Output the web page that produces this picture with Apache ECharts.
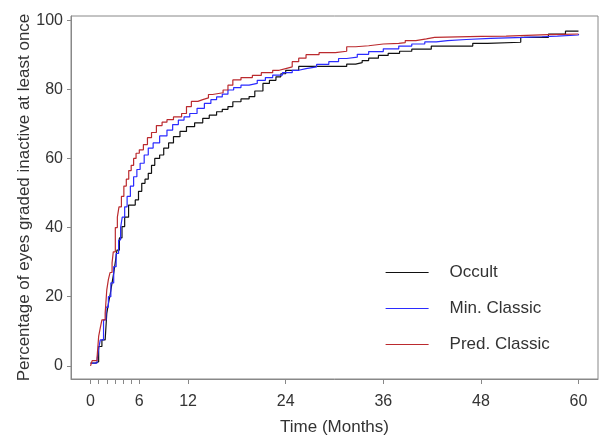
<!DOCTYPE html>
<html>
<head>
<meta charset="utf-8">
<script src="https://cdn.jsdelivr.net/npm/echarts@6/dist/echarts.min.js"></script>
<style>
  html, body { margin: 0; padding: 0; background: #fff; }
  #main { width: 605px; height: 436px; }
</style>
</head>
<body>
<div id="main"></div>
<script>
// cumulative % inactive (step curves)
var occultT = [0, 0.6, 1.0, 1.4, 1.8, 2.0, 2.2, 2.44, 2.65, 2.85, 3.05, 3.25, 3.55, 3.87, 4.2, 4.68, 5.5, 5.9, 6.3, 6.7, 7.1, 7.5, 7.9, 8.5, 9.0, 9.6, 10.2, 11.0, 11.8, 12.8, 13.8, 14.6, 15.5, 16.2, 16.9, 17.5, 18.5, 19.5, 20.2, 21.2, 22.0, 22.8, 23.4, 24.0, 25.6, 31.5, 32.6, 33.4, 34.2, 35.4, 36.6, 38.0, 39.5, 41.9, 47.0, 48.8, 52.9, 56.3, 58.4, 60];
var occultV = [0.8, 1.2, 5.6, 7.5, 8, 15.2, 18, 21, 24, 26.8, 30, 33.5, 37, 40.3, 43, 46.5, 48, 50.5, 52.8, 54, 55.7, 58, 60, 61, 63, 64.5, 66.3, 67.8, 69.2, 70.3, 71.6, 72.5, 73.5, 74.2, 75, 76.4, 77.2, 77.9, 79.5, 81.7, 82.6, 83.6, 84.5, 85.5, 86.6, 87.3, 87.7, 88.3, 89, 89.8, 90.4, 91, 91.6, 92.5, 93.3, 93.6, 95, 96, 96.8, 96.8];

var minT = [0, 0.8, 1.0, 1.2, 1.6, 1.9, 2.2, 2.5, 2.85, 3.15, 3.45, 3.7, 3.9, 4.2, 4.5, 4.9, 5.3, 5.7, 6.1, 6.6, 7.1, 7.7, 8.5, 9.4, 10.1, 10.8, 11.5, 12.2, 13.1, 14.0, 14.8, 15.5, 16.2, 16.9, 17.6, 18.5, 19.5, 20.5, 21.5, 22.4, 23.6, 24.8, 25.6, 26.5, 27.8, 29.3, 30.5, 31.5, 32.8, 34.2, 36.0, 37.9, 39.5, 41.1, 42.5, 43.9, 46.2, 49.2, 53.3, 55.5, 57.4, 60];
var minV = [0.8, 1.7, 5, 7.5, 13.3, 17, 20, 24, 28.7, 32.5, 36.4, 40, 43, 46, 49, 52, 54.7, 56.8, 58.6, 61, 63, 64.5, 66.5, 68.2, 69.8, 71.1, 72, 73, 74.5, 75.9, 77, 77.8, 78.6, 79.8, 80.5, 81.2, 81.7, 82.6, 83.4, 84.1, 84.8, 85.5, 86, 86.5, 87.2, 88, 88.9, 89.3, 90.1, 90.9, 91.7, 92.5, 93.1, 93.7, 94.1, 94.4, 94.7, 95, 95.2, 95.4, 95.7, 96];

var predT = [0, 0.2, 0.8, 1.0, 1.2, 1.4, 1.8, 2.0, 2.2, 2.4, 2.65, 2.8, 3.05, 3.3, 3.5, 3.8, 4.1, 4.4, 4.7, 5.0, 5.3, 5.6, 6.0, 6.5, 7.0, 7.5, 8.1, 8.8, 9.4, 10.2, 11.2, 11.8, 12.4, 13.2, 13.8, 14.5, 15.0, 16.3, 16.9, 17.5, 18.5, 19.9, 21.0, 22.4, 23.2, 24.0, 24.8, 25.6, 26.5, 28.1, 30.1, 31.5, 32.6, 34.2, 36.0, 37.9, 38.7, 40.0, 41.3, 42.3, 48.0, 51.1, 56.2, 58.0, 60];
var predV = [0, 1.5, 2.3, 8.5, 11, 13.3, 15.3, 22, 25, 27, 29.8, 33, 40, 43, 46, 49, 52, 54, 56.5, 58, 60, 61.5, 62.5, 64, 66, 67.5, 69.5, 70.5, 71.2, 72, 73, 75, 76.5, 77, 77.5, 78.5, 79, 79.8, 81.2, 82.7, 83.4, 84, 84.8, 85.5, 86, 86.5, 88, 89, 90, 90.6, 91, 92.3, 92.6, 93.1, 93.3, 93.5, 94.1, 94.6, 95, 95.3, 95.4, 95.8, 95.9, 96, 96.1];

var xTicks = [0, 1, 2, 3, 4, 5, 6, 12, 24, 36, 48, 60];
var xLabels = [0, 6, 12, 24, 36, 48, 60];
var yTicks = [0, 20, 40, 60, 80, 100];

function pairs(t, v) {
  var out = [];
  for (var i = 0; i < t.length; i++) {
    out.push([t[i], v[i]]);
  }
  return out;
}

var font = '"Liberation Sans", Helvetica, Arial, sans-serif';
var axisGray = '#888';
var textCol = '#333';

var chart = echarts.init(document.getElementById('main'));
var option = {
  animation: false,
  grid: {
    left: 71, top: 16, right: 7, bottom: 57,
    outerBoundsMode: 'none',
    show: true, borderColor: axisGray, borderWidth: 1
  },
  legend: {
    orient: 'vertical',
    left: 380, top: 259,
    itemWidth: 43, itemHeight: 14, itemGap: 19,
    itemStyle: { opacity: 0 },
    lineStyle: { width: 1.2 },
    textStyle: { fontFamily: font, fontSize: 17, color: textCol, padding: [0, 0, 0, 16] },
    data: ['Occult', 'Min. Classic', 'Pred. Classic']
  },
  xAxis: {
    type: 'value',
    min: -2.4, max: 62.4,
    name: 'Time (Months)',
    nameLocation: 'middle',
    nameGap: 40,
    nameMoveOverlap: false,
    nameTextStyle: { fontFamily: font, fontSize: 17, color: textCol },
    axisLine: { show: true, onZero: false, lineStyle: { color: axisGray } },
    axisTick: { show: true, length: 5, customValues: xTicks, lineStyle: { color: axisGray } },
    axisLabel: { customValues: xLabels, fontFamily: font, fontSize: 16, color: textCol, margin: 15 },
    splitLine: { show: false }
  },
  yAxis: {
    type: 'value',
    min: -3.8, max: 101.2,
    name: 'Percentage of eyes graded inactive at least once',
    nameLocation: 'middle',
    nameGap: 38,
    nameMoveOverlap: false,
    nameTextStyle: { fontFamily: font, fontSize: 17, color: textCol },
    axisLine: { show: true, onZero: false, lineStyle: { color: axisGray } },
    axisTick: { show: true, length: 4, customValues: yTicks, lineStyle: { color: axisGray } },
    axisLabel: { customValues: yTicks, fontFamily: font, fontSize: 16, color: textCol, margin: 8 },
    splitLine: { show: false }
  },
  series: [
    {
      name: 'Occult', type: 'line', step: 'end', symbol: 'none',
      lineStyle: { color: '#111', width: 1.2 }, itemStyle: { color: '#111' },
      data: pairs(occultT, occultV)
    },
    {
      name: 'Min. Classic', type: 'line', step: 'end', symbol: 'none',
      lineStyle: { color: '#2b2bff', width: 1.2 }, itemStyle: { color: '#2b2bff' },
      data: pairs(minT, minV)
    },
    {
      name: 'Pred. Classic', type: 'line', step: 'end', symbol: 'none',
      lineStyle: { color: '#bb2a2e', width: 1.2 }, itemStyle: { color: '#bb2a2e' },
      data: pairs(predT, predV)
    }
  ]
};
chart.setOption(option);
</script>
</body>
</html>
